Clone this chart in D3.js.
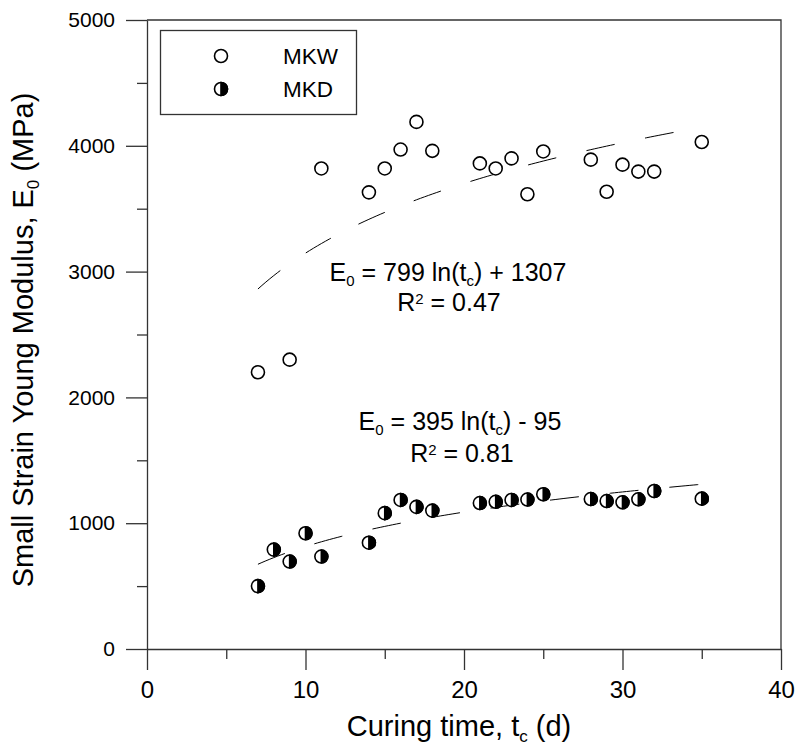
<!DOCTYPE html>
<html>
<head>
<meta charset="utf-8">
<script src="https://cdn.jsdelivr.net/npm/d3@7"></script>
<style>
  body { margin: 0; background: #fff; }
  text { font-family: "Liberation Sans", Arial, sans-serif; fill: #000; }
</style>
</head>
<body>
<div id="chart"></div>
<script>
// Data
const mkwDays = [7, 9, 11, 14, 15, 16, 17, 18, 21, 22, 23, 24, 25, 28, 29, 30, 31, 32, 35];
const mkwE0 = [2200, 2300, 3820, 3630, 3820, 3970, 4190, 3960, 3860, 3820, 3900, 3615, 3955, 3890, 3635, 3850, 3795, 3795, 4030];
const mkdDays = [7, 8, 9, 10, 11, 14, 15, 16, 17, 18, 21, 22, 23, 24, 25, 28, 29, 30, 31, 32, 35];
const mkdE0 = [500, 790, 695, 920, 735, 845, 1080, 1185, 1130, 1100, 1160, 1170, 1185, 1188, 1230, 1192, 1176, 1166, 1190, 1256, 1195];

// Fitted curves: E0 = a ln(t) + b
const fitMkw = { a: 799, b: 1307 };
const fitMkd = { a: 395, b: -95 };

const xMajor = [0, 10, 20, 30, 40];
const xMinor = [5, 15, 25, 35];
const yMajor = [0, 1000, 2000, 3000, 4000, 5000];
const yMinor = [500, 1500, 2500, 3500, 4500];

// The svg
const svg = d3.select("#chart")
  .append("svg")
  .attr("width", 798)
  .attr("height", 754);

const plotLeft = 147, plotRight = 781, plotTop = 20, plotBottom = 649;

const x = d3.scaleLinear().domain([0, 40]).range([plotLeft, plotRight]);
const y = d3.scaleLinear().domain([0, 5000]).range([plotBottom, plotTop]);

const axisColor = "#333";

// Frame (top and right)
svg.append("path")
  .attr("d", "M" + plotLeft + "," + plotTop + "H" + plotRight + "V" + plotBottom)
  .attr("fill", "none")
  .attr("stroke", axisColor)
  .attr("stroke-width", 1.3);

// X axis
const xAxisG = svg.append("g")
  .attr("transform", "translate(0," + plotBottom + ")")
  .call(d3.axisBottom(x).tickValues(xMajor).tickFormat(d3.format("d"))
    .tickSize(21).tickPadding(11).tickSizeOuter(0));
svg.append("g")
  .attr("transform", "translate(0," + plotBottom + ")")
  .call(d3.axisBottom(x).tickValues(xMinor).tickSize(10).tickFormat("").tickSizeOuter(0))
  .select(".domain").remove();

// Y axis
const yAxisG = svg.append("g")
  .attr("transform", "translate(" + plotLeft + ",0)")
  .call(d3.axisLeft(y).tickValues(yMajor).tickFormat(d3.format("d"))
    .tickSize(21).tickPadding(11).tickSizeOuter(0));
svg.append("g")
  .attr("transform", "translate(" + plotLeft + ",0)")
  .call(d3.axisLeft(y).tickValues(yMinor).tickSize(10).tickFormat("").tickSizeOuter(0))
  .select(".domain").remove();

svg.selectAll(".domain, .tick line")
  .attr("stroke", axisColor)
  .attr("stroke-width", 1.3);
svg.selectAll(".tick text")
  .style("font-family", "'Liberation Sans', Arial, sans-serif");
xAxisG.selectAll(".tick text").style("font-size", "24px");
yAxisG.selectAll(".tick text").style("font-size", "21px");

// Axis titles
const xTitle = svg.append("text")
  .attr("x", 459)
  .attr("y", 736)
  .attr("text-anchor", "middle")
  .style("font-size", "29px");
xTitle.append("tspan").text("Curing time, t");
xTitle.append("tspan").attr("dy", 6).style("font-size", "17px").text("c");
xTitle.append("tspan").attr("dy", -6).text(" (d)");

const yTitle = svg.append("text")
  .attr("transform", "translate(33,340) rotate(-90)")
  .attr("text-anchor", "middle")
  .style("font-size", "29px");
yTitle.append("tspan").text("Small Strain Young Modulus, E");
yTitle.append("tspan").attr("dy", 6).style("font-size", "17px").text("0");
yTitle.append("tspan").attr("dy", -6).text(" (MPa)");

// Fitted curves, dashed
function fitLine(fit) {
  const days = d3.range(7, 35.01, 0.25);
  return d3.line()
    .x(function (d) { return x(d); })
    .y(function (d) { return y(fit.a * Math.log(d) + fit.b); })(days);
}
[fitMkw, fitMkd].forEach(function (fit) {
  svg.append("path")
    .attr("d", fitLine(fit))
    .attr("fill", "none")
    .attr("stroke", "#000")
    .attr("stroke-width", 1)
    .attr("stroke-dasharray", "29,31");
});

// Markers
const r = 6.5;
function openCircle(g, cx, cy) {
  g.append("circle")
    .attr("cx", cx).attr("cy", cy).attr("r", r)
    .attr("fill", "#fff")
    .attr("stroke", "#000")
    .attr("stroke-width", 1.6);
}
function halfCircle(g, cx, cy) {
  openCircle(g, cx, cy);
  g.append("path")
    .attr("d", "M" + cx + "," + (cy - r) + "A" + r + "," + r + " 0 0 1 " + cx + "," + (cy + r) + "Z")
    .attr("fill", "#000")
    .attr("stroke", "#000")
    .attr("stroke-width", 1.6);
}

const points = svg.append("g");
mkwDays.forEach(function (d, i) { openCircle(points, x(d), y(mkwE0[i])); });
mkdDays.forEach(function (d, i) { halfCircle(points, x(d), y(mkdE0[i])); });

// Equations
function equation(cx, cy, a, sign, b) {
  const t = svg.append("text")
    .attr("x", cx).attr("y", cy)
    .attr("text-anchor", "middle")
    .style("font-size", "25px");
  t.append("tspan").text("E");
  t.append("tspan").attr("dy", 5).style("font-size", "15px").text("0");
  t.append("tspan").attr("dy", -5).text(" = " + a + " ln(t");
  t.append("tspan").attr("dy", 5).style("font-size", "15px").text("c");
  t.append("tspan").attr("dy", -5).text(") " + sign + " " + b);
}
function rSquared(cx, cy, v) {
  const t = svg.append("text")
    .attr("x", cx).attr("y", cy)
    .attr("text-anchor", "middle")
    .style("font-size", "25px");
  t.append("tspan").text("R");
  t.append("tspan").attr("dy", -7).style("font-size", "15px").text("2");
  t.append("tspan").attr("dy", 7).text(" = " + v);
}
equation(448, 281, fitMkw.a, "+", fitMkw.b);
rSquared(449, 311, "0.47");
equation(460, 430, fitMkd.a, "-", Math.abs(fitMkd.b));
rSquared(462, 462, "0.81");

// Legend
const legend = svg.append("g");
legend.append("rect")
  .attr("x", 160.5).attr("y", 30.5)
  .attr("width", 196).attr("height", 84)
  .attr("fill", "#fff")
  .attr("stroke", axisColor)
  .attr("stroke-width", 1.3);
openCircle(legend, 221, 56);
halfCircle(legend, 221, 89);
legend.append("text").attr("x", 283).attr("y", 64).style("font-size", "22.5px").text("MKW");
legend.append("text").attr("x", 283).attr("y", 97).style("font-size", "22.5px").text("MKD");
</script>
</body>
</html>
